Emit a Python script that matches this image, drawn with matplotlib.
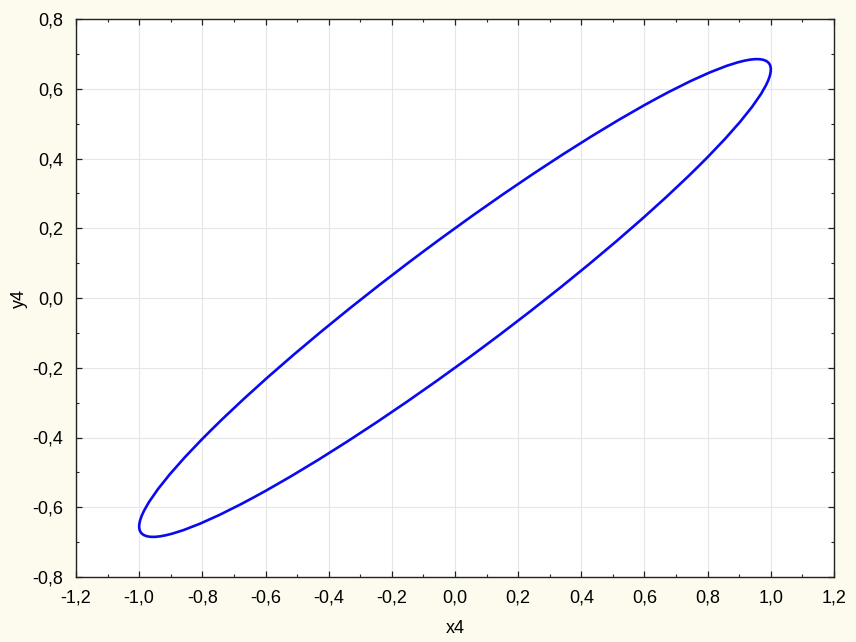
import numpy as np
import matplotlib
matplotlib.use("Agg")
import matplotlib.pyplot as plt
from matplotlib.patches import Ellipse
from matplotlib.ticker import MultipleLocator, FuncFormatter

# ── data ──
x_amplitude = 1.0     # max |x4|
y_amplitude = 0.685   # max |y4|
y_at_x_zero = 0.20    # y4 where the upper branch crosses x4 = 0
center = (0.0, 0.0)

x_ticks = [-1.2, -1.0, -0.8, -0.6, -0.4, -0.2, 0.0, 0.2, 0.4, 0.6, 0.8, 1.0, 1.2]
y_ticks = [-0.8, -0.6, -0.4, -0.2, 0.0, 0.2, 0.4, 0.6, 0.8]

# ellipse geometry from shape matrix  L L^T
phi = np.arcsin(y_at_x_zero / y_amplitude)
L = np.array([[x_amplitude, 0.0],
              [y_amplitude * np.cos(phi), y_amplitude * np.sin(phi)]])
vals, vecs = np.linalg.eigh(L @ L.T)
major = vecs[:, 1]
angle = np.degrees(np.arctan2(major[1], major[0]))
width, height = 2 * np.sqrt(vals[1]), 2 * np.sqrt(vals[0])

plt.rcParams["font.family"] = ["Liberation Sans", "DejaVu Sans"]
bg = "#fdfaee"

fig = plt.figure(figsize=(8.56, 6.42), dpi=100, facecolor=bg)
ax = fig.add_axes([76 / 856, 1 - 577 / 642, 758 / 856, 558 / 642])
ax.set_facecolor("white")

ax.add_patch(Ellipse(center, width, height, angle=angle, fill=False,
                     edgecolor="#0a0af0", linewidth=1.9, zorder=3))

ax.set_xlim(x_ticks[0], x_ticks[-1])
ax.set_ylim(y_ticks[0], y_ticks[-1])
ax.set_xticks(x_ticks)
ax.set_yticks(y_ticks)
ax.xaxis.set_minor_locator(MultipleLocator(0.1))
ax.yaxis.set_minor_locator(MultipleLocator(0.1))
fmt = FuncFormatter(lambda v, p: f"{v:.1f}".replace(".", ",").replace("-0,0", "0,0"))
ax.xaxis.set_major_formatter(fmt)
ax.yaxis.set_major_formatter(fmt)

ax.tick_params(which="both", direction="in", top=True, right=True,
               labelsize=13, color="#222222")
ax.tick_params(which="major", length=4, width=0.9, pad=9)
ax.tick_params(which="minor", length=2.5, width=0.8)
ax.grid(True, which="major", color="#e6e6e6", linewidth=0.8)
ax.set_axisbelow(True)
for s in ax.spines.values():
    s.set_color("#222222")
    s.set_linewidth(1.0)

ax.set_xlabel("x4", fontsize=13, labelpad=10)
ax.set_ylabel("y4", fontsize=13, labelpad=3)

fig.savefig("out.png", dpi=100, facecolor=bg)
